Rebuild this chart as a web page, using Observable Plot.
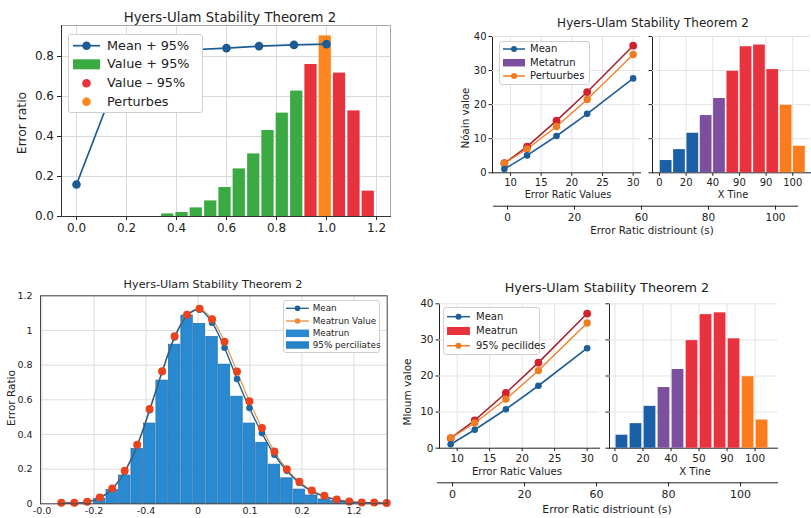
<!DOCTYPE html>
<html>
<head>
<meta charset="utf-8">
<script src="https://cdn.jsdelivr.net/npm/d3@7"></script>
<script src="https://cdn.jsdelivr.net/npm/@observablehq/plot@0.6"></script>
<style>
html,body{margin:0;padding:0;background:#fff;}
#root{position:relative;width:811px;height:518px;overflow:hidden;background:#fff;font-family:"DejaVu Sans",sans-serif;color:#222;}
#root > svg{position:absolute;left:0;top:0;}
.t{position:absolute;white-space:nowrap;line-height:1;transform:translate(-50%,-50%);}
.r{transform:translate(-50%,-50%) rotate(-90deg);}
.lg{position:absolute;background:#fff;border:1px solid #cfcfcf;border-radius:3px;box-sizing:border-box;}
.lg svg{position:absolute;left:-1px;top:-1px;overflow:visible;}
.lg span{position:absolute;white-space:nowrap;line-height:1;transform:translateY(-50%);color:#222;}
</style>
</head>
<body>
<div id="root"></div>
<script>
// ---------------- data ----------------
const chartTitle = "Hyers-Ulam Stability Theorem 2";

// Panel A (top-left)
const aBinCenters = [0.365,0.422,0.479,0.537,0.594,0.651,0.709,0.766,0.823,0.881,0.938,0.995,1.052,1.110,1.167];
const aBinValues  = [0.013,0.02,0.043,0.078,0.145,0.238,0.313,0.43,0.517,0.627,0.76,0.903,0.717,0.528,0.127];
const aBinGroups  = ["Value + 95%","Value + 95%","Value + 95%","Value + 95%","Value + 95%","Value + 95%","Value + 95%","Value + 95%","Value + 95%","Value + 95%","Value – 95%","Perturbes","Value – 95%","Value – 95%","Value – 95%"];
const aMeanX = [0,0.2,0.4,0.6,0.73,0.87,1.0];
const aMeanY = [0.16,0.81,0.83,0.842,0.852,0.858,0.862];
const aXTicks = [0,0.2,0.4,0.6,0.8,1.0,1.2];
const aYTicks = [0,0.2,0.4,0.6,0.8];
const aLegendLabels = ["Mean + 95%","Value + 95%","Value – 95%","Perturbes"];
const aYLabel = "Error ratio";

// Panels B (top-right) and D (bottom-right)
const lineX      = [9,12.7,17.5,22.5,30];
const meanVals   = [1.1,5.1,10.8,17.3,27.7];
const upperVals  = [2.8,7.7,15.3,23.7,37.3];
const pertVals   = [2.8,7.0,13.6,21.5,34.7];
const histPos    = [5,15,25,35,45,55,65,75,85,95,105];
const histVals   = [3.6,6.8,11.6,16.8,21.8,29.8,37.0,37.5,30.3,19.8,7.8];
const histGroups = ["a","a","a","b","b","c","c","c","c","d","d"];
const lineXTicks = [10,15,20,25,30];
const lineYTicks = [0,10,20,30,40];
const histTickPos = [0,20,40,60,80,100];
const bHistTickLabels = ["0","20","40","90","90","100"];
const dHistTickLabels = ["0","20","40","50","90","100"];
const secTickPos = [0,20,40,60,80];
const secTickLabels = ["0","20","60","80","100"];
const bLegendLabels = ["Mean","Metatrun","Pertuurbes"];
const dLegendLabels = ["Mean","Meatrun","95% pecilides"];
const bYLabel = "Nóain valoe";
const dYLabel = "Mloum valoe";
const leftXLabel = "Error Ratic Values";
const rightXLabel = "X Tine";
const secLabel = "Error Ratic distriount (s)";

// Panel C (bottom-left)
const cBinCenters = [-1.89,-1.65,-1.41,-1.17,-0.93,-0.69,-0.45,-0.21,0.03,0.27,0.51,0.75,0.99,1.23,1.47,1.71,1.95,2.19,2.43,2.67,2.91];
const cBinValues  = [0.029,0.08,0.163,0.316,0.463,0.711,0.918,1.086,1.038,0.962,0.803,0.618,0.463,0.352,0.226,0.147,0.082,0.048,0.025,0.015,0.008];
const cPtX     = [-2.63,-2.38,-2.13,-1.89,-1.65,-1.41,-1.17,-0.93,-0.69,-0.45,-0.21,0.03,0.27,0.51,0.75,0.99,1.23,1.47,1.71,1.95,2.19,2.43,2.67,2.91,3.15,3.39,3.63];
const cMeatrun = [0.006,0.006,0.012,0.036,0.088,0.19,0.341,0.547,0.765,0.967,1.09,1.125,1.065,0.935,0.763,0.591,0.437,0.302,0.2,0.127,0.077,0.046,0.025,0.013,0.008,0.007,0.004];
const cMean    = [0.005,0.005,0.01,0.033,0.085,0.185,0.335,0.54,0.76,0.96,1.085,1.12,1.045,0.9,0.72,0.553,0.408,0.283,0.19,0.12,0.072,0.043,0.022,0.011,0.007,0.006,0.004];
const cXTicks = [-3,-2,-1,0,1,2,3];
const cXTickLabels = ["-0.0","-0.2","-0.4","0","0.1","0.2","1.2"];
const cYTicks = [0,0.2,0.4,0.6,0.8,1,1.2];
const cLegendLabels = ["Mean","Meatrun Value","Meatrun","95% perciliates"];
const cYLabel = "Error Ratio";

// ---------------- helpers ----------------
const root = document.getElementById("root");
const W = 811, H = 518;
function area(l, t, r, b) {
  return {width: W, height: H, marginLeft: l, marginTop: t, marginRight: W - r, marginBottom: H - b};
}
function st(fs) {
  return `background:transparent;color:#222;font-family:'DejaVu Sans',sans-serif;font-size:${fs}px;overflow:visible;`;
}
function txt(s, x, y, fs, rot) {
  const d = document.createElement("div");
  d.className = rot ? "t r" : "t";
  d.textContent = s;
  d.style.left = x + "px"; d.style.top = y + "px"; d.style.fontSize = fs + "px";
  root.appendChild(d);
}
const NS = "http://www.w3.org/2000/svg";
function el(name, attrs) {
  const e = document.createElementNS(NS, name);
  for (const k in attrs) e.setAttribute(k, attrs[k]);
  return e;
}
function legend(o) {
  const div = document.createElement("div");
  div.className = "lg";
  Object.assign(div.style, {left: o.l + "px", top: o.t + "px", width: o.w + "px", height: o.h + "px"});
  const svg = el("svg", {width: o.w, height: o.h});
  div.appendChild(svg);
  o.rows.forEach(r => {
    const y = r.y - o.t, x0 = o.sx - o.l, x1 = x0 + o.sw, xm = (x0 + x1) / 2;
    if (r.kind === "line") {
      svg.appendChild(el("line", {x1: x0, x2: x1, y1: y, y2: y, stroke: r.color, "stroke-width": o.lw}));
      svg.appendChild(el("circle", {cx: xm, cy: y, r: o.mr, fill: r.dot || r.color}));
    } else if (r.kind === "rect") {
      svg.appendChild(el("rect", {x: x0, y: y - o.rh / 2, width: o.sw, height: o.rh, fill: r.color}));
    } else {
      svg.appendChild(el("circle", {cx: xm, cy: y, r: o.dr, fill: r.color}));
    }
    const sp = document.createElement("span");
    sp.textContent = r.label;
    sp.style.left = (o.tx - o.l - 1) + "px";
    sp.style.top = (y - 1) + "px";
    sp.style.fontSize = o.fs + "px";
    div.appendChild(sp);
  });
  root.appendChild(div);
}

// colours
const cBlue = "#1d5e96", cDarkRed = "#a21f2d", cRedDot = "#d3222b", cOrange = "#f07c22";

// ---------------- Panel A ----------------
const aBins = aBinCenters.map((c, i) => ({c, v: aBinValues[i], g: aBinGroups[i]}));
const aMean = aMeanX.map((x, i) => ({x, y: aMeanY[i]}));
const aHalf = 0.0245;
root.appendChild(Plot.plot({
  ...area(61, 25, 390, 216),
  style: st(12),
  x: {domain: [-0.06, 1.256], ticks: aXTicks, tickFormat: d3.format(".1f"), tickSize: 4, tickPadding: 3, label: null},
  y: {domain: [0, 0.955], ticks: aYTicks, tickFormat: d3.format(".1f"), tickSize: 4, tickPadding: 3.5, label: null},
  color: {domain: ["Value + 95%", "Value – 95%", "Perturbes"], range: ["#3caa42", "#e8333f", "#fd861f"]},
  marks: [
    Plot.ruleX(aXTicks, {stroke: "#d9d9d9"}),
    Plot.ruleY(aYTicks, {stroke: "#d9d9d9"}),
    Plot.rectY(aBins, {x1: d => d.c - aHalf, x2: d => d.c + aHalf, y: "v", fill: "g"}),
    Plot.line(aMean, {x: "x", y: "y", stroke: "#1d5b94", strokeWidth: 1.7}),
    Plot.dot(aMean, {x: "x", y: "y", r: 4.3, fill: "#1d5b94"}),
    Plot.frame({stroke: "#a8a8a8"}),
    Plot.frame({anchor: "left", stroke: "#333"}),
    Plot.frame({anchor: "bottom", stroke: "#333"})
  ]
}));

// ---------------- line subplot helper (B, D) ----------------
function linePanel(l, t, r, b, xdom, fs) {
  const mk = vals => lineX.map((x, i) => ({x, y: vals[i]}));
  const up = mk(upperVals), pe = mk(pertVals), me = mk(meanVals);
  return Plot.plot({
    ...area(l, t, r, b),
    style: st(fs),
    x: {domain: xdom, ticks: lineXTicks, tickSize: 3.5, tickPadding: 2.5, line: true, label: null},
    y: {domain: [0, 40], ticks: lineYTicks, tickSize: 3.5, tickPadding: 2.5, line: true, label: null},
    marks: [
      Plot.ruleX(lineXTicks, {stroke: "#e3e3e3"}),
      Plot.ruleY(lineYTicks.slice(1), {stroke: "#e3e3e3"}),
      Plot.line(up, {x: "x", y: "y", stroke: cDarkRed, strokeWidth: 1.5}),
      Plot.line(pe, {x: "x", y: "y", stroke: cOrange, strokeWidth: 1.3}),
      Plot.line(me, {x: "x", y: "y", stroke: cBlue, strokeWidth: 1.6}),
      Plot.dot(up, {x: "x", y: "y", r: 3.9, fill: cRedDot}),
      Plot.dot(pe, {x: "x", y: "y", r: 3.7, fill: cOrange}),
      Plot.dot(me, {x: "x", y: "y", r: 3.3, fill: cBlue})
    ]
  });
}
function histPanel(l, t, r, b, xdom, half, labels, fs) {
  const lab = new Map(histTickPos.map((p, i) => [p, labels[i]]));
  const hist = histPos.map((p, i) => ({p, v: histVals[i], g: histGroups[i]}));
  return Plot.plot({
    ...area(l, t, r, b),
    style: st(fs),
    x: {domain: xdom, ticks: histTickPos, tickFormat: d => lab.get(d), tickSize: 3.5, tickPadding: 2.5, line: true, label: null},
    y: {domain: [0, 40], ticks: lineYTicks, tickFormat: () => "", tickSize: 3.5, line: true, label: null},
    color: {domain: ["a", "b", "c", "d"], range: ["#1b60a6", "#7c4f9f", "#e8333f", "#fb7c1c"]},
    marks: [
      Plot.ruleX(histTickPos, {stroke: "#e3e3e3"}),
      Plot.ruleY(lineYTicks.slice(1), {stroke: "#e3e3e3"}),
      Plot.rectY(hist, {x1: d => d.p - half, x2: d => d.p + half, y: "v", fill: "g"})
    ]
  });
}
function secAxis(l, r, y, xdom, fs) {
  const lab = new Map(secTickPos.map((p, i) => [p, secTickLabels[i]]));
  return Plot.plot({
    ...area(l, y, r, y),
    style: st(fs),
    x: {domain: xdom, ticks: secTickPos, tickFormat: d => lab.get(d), tickSize: 4, tickPadding: 3, line: true, label: null},
    marks: [Plot.ruleX(secTickPos, {strokeOpacity: 0})]
  });
}

// ---------------- Panel B ----------------
root.appendChild(linePanel(492, 36, 640, 172.3, [7.06, 31.2], 10));
root.appendChild(histPanel(652, 36, 810, 172.3, [-5.25, 113.3], 4.4, bHistTickLabels, 10));
root.appendChild(secAxis(493, 797, 205.7, [-4.18, 86.57], 10.5));

// ---------------- Panel D ----------------
root.appendChild(linePanel(439, 303.3, 599, 447.7, [7.28, 31.9], 10.5));
root.appendChild(histPanel(609, 303.3, 777, 447.7, [-3.9, 116], 4.2, dHistTickLabels, 10.5));
root.appendChild(secAxis(437, 777, 482.3, [-4.17, 90.28], 11));

// ---------------- Panel C ----------------
const cBins = cBinCenters.map((c, i) => ({c, v: cBinValues[i]}));
const cRed = cPtX.map((x, i) => ({x, y: cMeatrun[i]}));
const cBl = cPtX.map((x, i) => ({x, y: cMean[i]}));
const cLab = new Map(cXTicks.map((p, i) => [p, cXTickLabels[i]]));
const cHalf = 0.11;
root.appendChild(Plot.plot({
  ...area(40, 295.3, 386.7, 503.3),
  style: st(9.5),
  x: {domain: [-3.03, 3.64], ticks: cXTicks, tickFormat: d => cLab.get(d), tickSize: 0, tickPadding: 3, label: null},
  y: {domain: [0, 1.2], ticks: cYTicks, tickFormat: d => String(d), tickSize: 0, tickPadding: 8, label: null},
  marks: [
    Plot.ruleX(cXTicks, {stroke: "#dcdcdc"}),
    Plot.ruleY(cYTicks, {stroke: "#dcdcdc"}),
    Plot.rectY(cBins, {x1: d => d.c - cHalf, x2: d => d.c + cHalf, y: "v", fill: "#2a8ad1", stroke: "#1c6cab", strokeWidth: 0.7}),
    Plot.line(cRed, {x: "x", y: "y", stroke: "#ec8a3a", strokeWidth: 1.1, curve: "catmull-rom"}),
    Plot.line(cBl, {x: "x", y: "y", stroke: "#1b5f93", strokeWidth: 1.4, curve: "catmull-rom"}),
    Plot.dot(cBl, {x: "x", y: "y", r: 3.3, fill: "#1f6aa6"}),
    Plot.dot(cRed, {x: "x", y: "y", r: 4, fill: "#ea431d"}),
    Plot.frame({stroke: "#444"})
  ]
}));

// ---------------- texts ----------------
txt(chartTitle, 230, 17.5, 13.3);
txt(aYLabel, 22, 123, 12.3, true);

txt(chartTitle, 653, 23, 12);
txt(bYLabel, 465, 118, 10.3, true);
txt(leftXLabel, 568, 195, 9.8);
txt(rightXLabel, 733, 195, 9.8);
txt(secLabel, 652, 230, 10.3);

txt(chartTitle, 213, 285, 11.2);
txt(cYLabel, 10.5, 398, 10.5, true);

txt(chartTitle, 607, 288, 12.8);
txt(dYLabel, 407, 392, 10.5, true);
txt(leftXLabel, 517, 471.7, 10.2);
txt(rightXLabel, 695, 471.7, 10.2);
txt(secLabel, 607, 510, 10.8);

// ---------------- legends ----------------
legend({l: 68, t: 34, w: 135, h: 79, sx: 73, sw: 27, tx: 107, fs: 12.8, lw: 1.7, mr: 4.3, dr: 4.3, rh: 10,
  rows: [
    {y: 45.7, kind: "line", color: "#1d5b94", label: aLegendLabels[0]},
    {y: 64.3, kind: "rect", color: "#3caa42", label: aLegendLabels[1]},
    {y: 83.3, kind: "dot", color: "#e8333f", label: aLegendLabels[2]},
    {y: 101.7, kind: "dot", color: "#fd861f", label: aLegendLabels[3]}
  ]});
legend({l: 499, t: 41, w: 91, h: 44, sx: 503, sw: 22, tx: 530, fs: 10, lw: 1.5, mr: 3, dr: 3, rh: 7.5,
  rows: [
    {y: 49, kind: "line", color: cBlue, label: bLegendLabels[0]},
    {y: 62.7, kind: "rect", color: "#7c4f9f", label: bLegendLabels[1]},
    {y: 76, kind: "line", color: cOrange, label: bLegendLabels[2]}
  ]});
legend({l: 283, t: 300, w: 97, h: 53, sx: 286, sw: 23, tx: 312.7, fs: 8.8, lw: 1.3, mr: 2.8, dr: 2.8, rh: 7.5,
  rows: [
    {y: 308.3, kind: "line", color: "#1b5f93", label: cLegendLabels[0]},
    {y: 321, kind: "line", color: "#ec8a3a", label: cLegendLabels[1]},
    {y: 333.3, kind: "rect", color: "#2a8ad1", label: cLegendLabels[2]},
    {y: 345, kind: "rect", color: "#2683c8", label: cLegendLabels[3]}
  ]});
legend({l: 443, t: 307, w: 97, h: 48, sx: 447, sw: 23, tx: 476, fs: 10, lw: 1.5, mr: 3, dr: 3, rh: 8,
  rows: [
    {y: 316.7, kind: "line", color: cBlue, label: dLegendLabels[0]},
    {y: 331, kind: "rect", color: "#e8333f", label: dLegendLabels[1]},
    {y: 345.7, kind: "line", color: cOrange, label: dLegendLabels[2]}
  ]});
</script>
</body>
</html>
